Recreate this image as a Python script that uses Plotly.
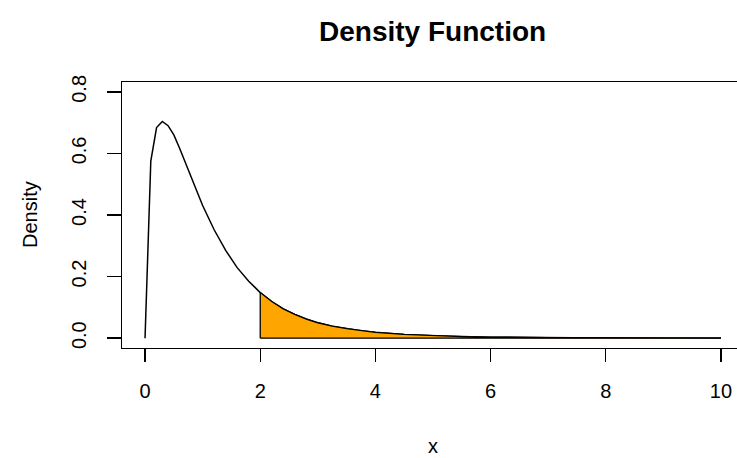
import plotly.graph_objects as go

# Density curve values
x_vals = [0.0, 0.1, 0.2, 0.3, 0.4, 0.5, 0.6, 0.7, 0.8, 0.9, 1.0,
          1.2, 1.4, 1.6, 1.8, 2.0, 2.2, 2.4, 2.6, 2.8, 3.0,
          3.25, 3.5, 3.75, 4.0, 4.5, 5.0, 5.5, 6.0, 7.0, 8.0, 9.0, 10.0]
density = [0.000, 0.575, 0.684, 0.704, 0.690, 0.660, 0.617, 0.570, 0.522, 0.476, 0.431,
           0.352, 0.285, 0.229, 0.185, 0.148, 0.119, 0.095, 0.077, 0.062, 0.050,
           0.039, 0.031, 0.024, 0.019, 0.012, 0.0077, 0.005, 0.0033, 0.0015, 0.0007, 0.0003, 0.00015]
shade_from = 2.0

x_ticks = [0, 2, 4, 6, 8, 10]
y_ticks = [0.0, 0.2, 0.4, 0.6, 0.8]

FONT = "Liberation Sans, Arial, Helvetica, sans-serif"

sx = [x for x in x_vals if x >= shade_from]
sy = [y for x, y in zip(x_vals, density) if x >= shade_from]
poly_x = [sx[0]] + sx + [sx[-1], sx[0]]
poly_y = [0] + sy + [0, 0]

fig = go.Figure()
fig.add_trace(go.Scatter(x=x_vals, y=density, mode="lines",
                         line=dict(color="black", width=1.5), hoverinfo="skip"))
fig.add_trace(go.Scatter(x=poly_x, y=poly_y, mode="lines", fill="toself",
                         fillcolor="#FFA500", line=dict(color="black", width=1.3),
                         hoverinfo="skip"))

W, H = 737, 458
L, T = 122, 82
PW = W - L
PH = 266
B = H - T - PH

fig.update_layout(
    width=W, height=H,
    margin=dict(l=L, r=0, t=T, b=B, pad=0),
    paper_bgcolor="white", plot_bgcolor="white",
    showlegend=False,
    font=dict(family=FONT, color="black", size=20),
    xaxis=dict(range=[-0.4, 10.278], tickvals=x_ticks, ticktext=[str(v) for v in x_ticks],
               ticks="outside", ticklen=13, tickwidth=1.3, tickcolor="black",
               showline=True, linecolor="black", linewidth=1.3, mirror=True,
               showgrid=False, zeroline=False, ticklabelstandoff=12,
               tickfont=dict(size=20)),
    yaxis=dict(range=[-0.032, 0.832], tickvals=y_ticks, ticktext=[f"{v:.1f}" for v in y_ticks],
               ticks="outside", ticklen=14, tickwidth=1.3, tickcolor="black",
               showline=True, linecolor="black", linewidth=1.3,
               showgrid=False, zeroline=False, tickangle=-90, ticklabelstandoff=13,
               tickfont=dict(size=20)),
    annotations=[
        dict(text="<b>Density Function</b>", xref="paper", yref="paper",
             x=(432.5 - L) / PW, y=1 + (T - 31) / PH, xanchor="center", yanchor="middle",
             showarrow=False, font=dict(size=28)),
        dict(text="x", xref="paper", yref="paper",
             x=(432.5 - L) / PW, y=-(446 - (T + PH)) / PH, xanchor="center", yanchor="middle",
             showarrow=False, font=dict(size=20)),
        dict(text="Density", xref="paper", yref="paper",
             x=-(L - 30) / PW, y=0.5, xanchor="center", yanchor="middle", textangle=-90,
             showarrow=False, font=dict(size=20)),
    ],
)

fig.write_html("out.html",
               config={"displayModeBar": False, "staticPlot": True},
               post_script="document.body.style.margin='0';document.body.style.overflow='hidden';")
